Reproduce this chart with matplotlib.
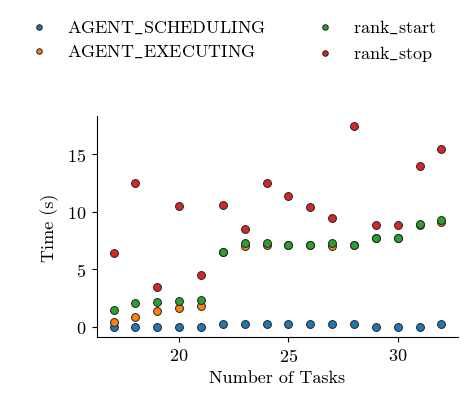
import matplotlib
matplotlib.use("Agg")
import matplotlib.pyplot as plt

plt.rcParams['font.family'] = ['cmr10', 'DejaVu Serif']
plt.rcParams['mathtext.fontset'] = 'cm'
plt.rcParams['axes.formatter.use_mathtext'] = True
plt.rcParams['axes.unicode_minus'] = False

tasks = [17, 18, 19, 20, 21, 22, 23, 24, 25, 26, 27, 28, 29, 30, 31, 32]
agent_scheduling = [0.0, 0.0, 0.0, 0.0, 0.0, 0.26, 0.26, 0.26, 0.26, 0.26, 0.26, 0.26, 0.0, 0.0, 0.0, 0.26]
agent_executing = [0.4, 0.84, 1.39, 1.6, 1.8, 6.5, 7.05, 7.1, 7.12, 7.12, 7.05, 7.14, 7.7, 7.7, 8.9, 9.1]
rank_start = [1.5, 2.1, 2.2, 2.23, 2.32, 6.55, 7.25, 7.25, 7.16, 7.16, 7.28, 7.16, 7.74, 7.74, 8.93, 9.25]
rank_stop = [6.46, 12.55, 3.5, 10.55, 4.55, 10.64, 8.49, 12.49, 11.36, 10.4, 9.45, 17.48, 8.84, 8.84, 14.03, 15.48]

labels = [r'$\mathrm{AGENT\_SCHEDULING}$', r'$\mathrm{AGENT\_EXECUTING}$',
          r'$\mathrm{rank\_start}$', r'$\mathrm{rank\_stop}$']
series = [agent_scheduling, agent_executing, rank_start, rank_stop]
colors = ['#1f77b4', '#ff7f0e', '#2ca02c', '#d62728']

fig = plt.figure(figsize=(4.74, 4.10), dpi=100)
ax = fig.add_axes([0.205, 0.176, 0.761, 0.539])
handles = []
for vals, lab, c in zip(series, labels, colors):
    h = ax.scatter(tasks, vals, s=32, color=c, edgecolors='#222222', linewidths=0.7, label=lab, zorder=3)
    handles.append(h)

ax.spines['top'].set_visible(False)
ax.spines['right'].set_visible(False)
ax.set_xticks([20, 25, 30])
ax.set_yticks([0, 5, 10, 15])
ax.tick_params(labelsize=13, length=3.6, pad=4)
ax.set_xlabel('Number of Tasks', fontsize=13, labelpad=4)
ax.set_ylabel('Time (s)', fontsize=13, labelpad=6)

fig.legend(handles=handles, labels=labels, loc='upper left', bbox_to_anchor=(0.01, 0.995),
           ncol=2, frameon=False, fontsize=13, markerscale=0.7, columnspacing=2.3,
           handletextpad=0.55, labelspacing=0.45)

fig.savefig('out.png', dpi=100)
